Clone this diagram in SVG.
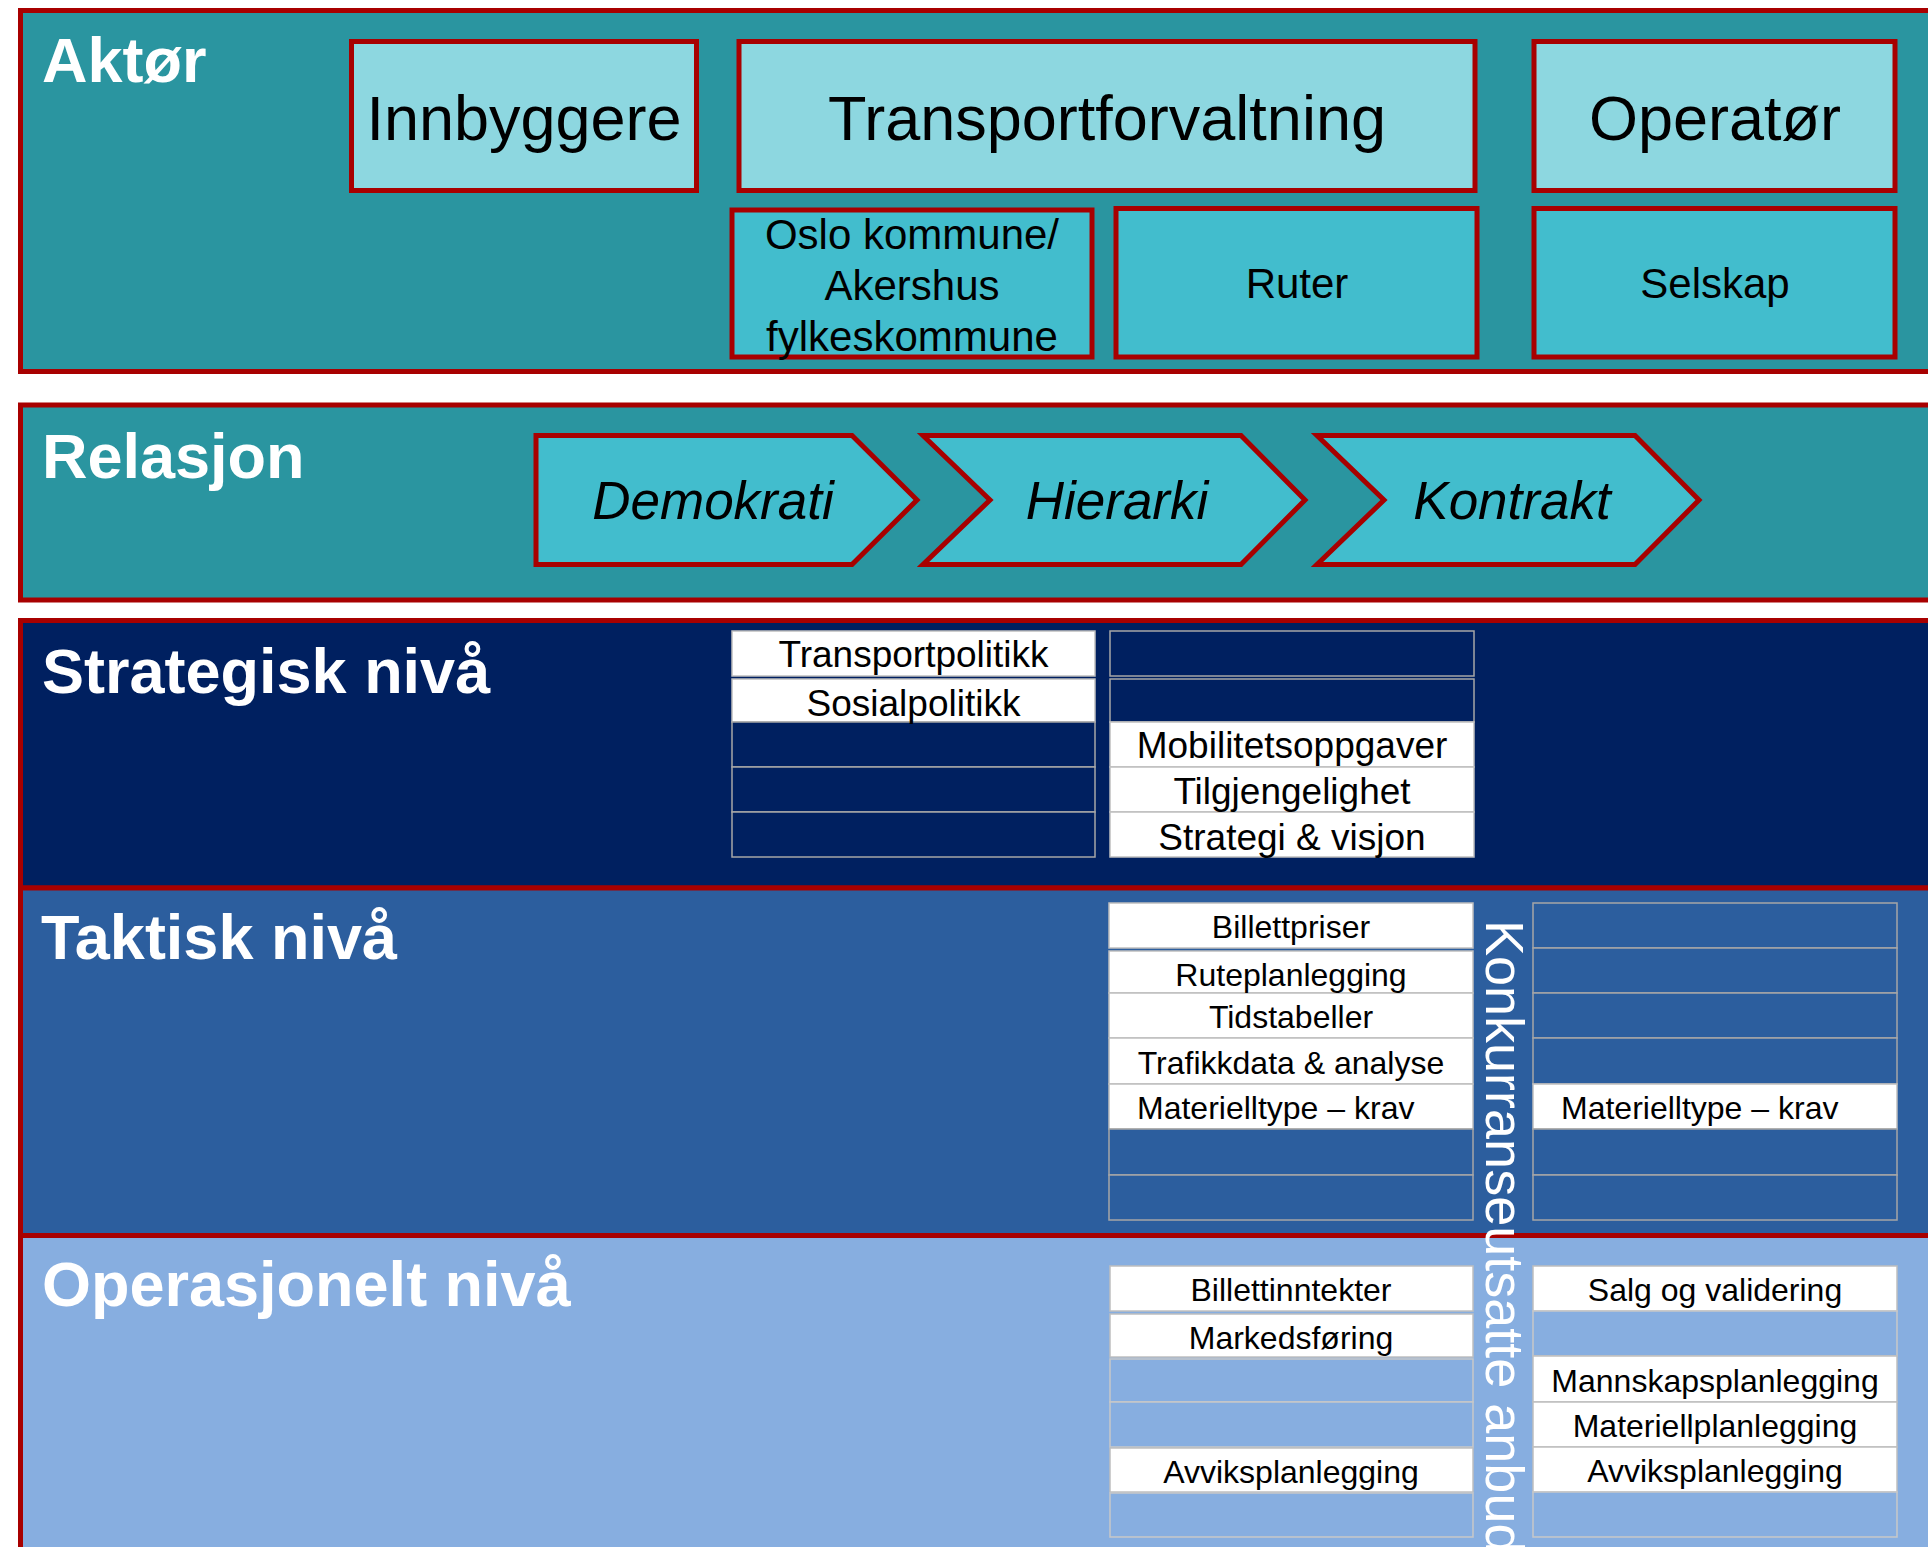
<svg xmlns="http://www.w3.org/2000/svg" width="1928" height="1547" viewBox="0 0 1928 1547">
<defs>
<style>
text{font-family:"Liberation Sans",Arial,sans-serif;}
.band{stroke:#A80000;stroke-width:5;}
.teal{fill:#2A95A0;}
.box{stroke:#A80000;stroke-width:5;}
.lt{fill:#8DD7E0;}
.md{fill:#42BDCD;}
.title{font-size:63px;font-weight:bold;fill:#FFFFFF;}
.big{font-size:63px;fill:#000;text-anchor:middle;}
.sub{font-size:42px;fill:#000;text-anchor:middle;}
.chev{fill:#42BDCD;stroke:#A80000;stroke-width:5;stroke-linejoin:miter;}
.ct{font-size:53px;font-style:italic;fill:#000;text-anchor:middle;}
.cw{fill:#FFFFFF;stroke:#BFBFBF;stroke-width:1.5;}
.cs{fill:#002060;stroke:#A6A6A6;stroke-width:1.5;}
.ck{fill:#2C5E9E;stroke:#A6A6A6;stroke-width:1.5;}
.co{fill:#87AEE0;stroke:#C8C8C8;stroke-width:1.5;}
.t37{font-size:37px;fill:#000;text-anchor:middle;}
.t32{font-size:32px;fill:#000;text-anchor:middle;}
.t32s{font-size:32px;fill:#000;}
</style>
</defs>
<rect x="0" y="0" width="1928" height="1547" fill="#FFFFFF"/>

<g id="band-aktor">
<rect class="band teal" x="20.5" y="10.5" width="2000" height="361"/>
<text class="title" x="42" y="82">Aktør</text>
</g>
<g id="node-innbyggere">
<rect class="box lt" x="351.5" y="41.5" width="345" height="149"/>
<text class="big" x="524" y="140">Innbyggere</text>
</g>
<g id="node-transportforvaltning">
<rect class="box lt" x="739" y="41.5" width="736" height="149"/>
<text class="big" x="1107" y="140">Transportforvaltning</text>
</g>
<g id="node-operator">
<rect class="box lt" x="1534" y="41.5" width="361" height="149"/>
<text class="big" x="1715" y="140">Operatør</text>
</g>
<g id="node-oslo">
<rect class="box md" x="732" y="210" width="360" height="147"/>
<text class="sub" x="912" y="248.5">Oslo kommune/</text>
<text class="sub" x="912" y="299.5">Akershus</text>
<text class="sub" x="912" y="350.5">fylkeskommune</text>
</g>
<g id="node-ruter">
<rect class="box md" x="1116" y="208.5" width="361" height="148.5"/>
<text class="sub" x="1297" y="298">Ruter</text>
</g>
<g id="node-selskap">
<rect class="box md" x="1534" y="208.5" width="361" height="148.5"/>
<text class="sub" x="1715" y="298">Selskap</text>
</g>

<g id="band-relasjon">
<rect class="band teal" x="20.5" y="405" width="2000" height="195"/>
<text class="title" x="42" y="478">Relasjon</text>
</g>
<g id="node-demokrati">
<path class="chev" d="M536,435.5 H852 L917,500 L852,564.5 H536 Z"/>
<text class="ct" x="713" y="519">Demokrati</text>
</g>
<g id="node-hierarki">
<path class="chev" d="M923,435.5 H1241 L1305,500 L1241,564.5 H923 L990,500 Z"/>
<text class="ct" x="1117" y="519">Hierarki</text>
</g>
<g id="node-kontrakt">
<path class="chev" d="M1317,435.5 H1635 L1699,500 L1635,564.5 H1317 L1384,500 Z"/>
<text class="ct" x="1512" y="519">Kontrakt</text>
</g>

<g id="band-strategisk">
<rect class="band" fill="#002060" x="20.5" y="620.5" width="2000" height="267.5"/>
<text class="title" x="42" y="693">Strategisk nivå</text>
<rect class="cw" x="732" y="631" width="363" height="45"/>
<rect class="cw" x="732" y="679" width="363" height="43"/>
<rect class="cs" x="732" y="722" width="363" height="45"/>
<rect class="cs" x="732" y="767" width="363" height="45"/>
<rect class="cs" x="732" y="812" width="363" height="45"/>
<text class="t37" x="913.5" y="667">Transportpolitikk</text>
<text class="t37" x="913.5" y="716">Sosialpolitikk</text>
<rect class="cs" x="1110" y="631" width="364" height="45"/>
<rect class="cs" x="1110" y="679" width="364" height="43"/>
<rect class="cw" x="1110" y="722" width="364" height="45"/>
<rect class="cw" x="1110" y="767" width="364" height="45"/>
<rect class="cw" x="1110" y="812" width="364" height="45"/>
<text class="t37" x="1292" y="758">Mobilitetsoppgaver</text>
<text class="t37" x="1292" y="803.5">Tilgjengelighet</text>
<text class="t37" x="1292" y="849.5">Strategi &amp; visjon</text>
</g>

<g id="band-taktisk">
<rect class="band" fill="#2C5E9E" x="20.5" y="888" width="2000" height="347.5"/>
<text class="title" x="41" y="959">Taktisk nivå</text>
<rect class="cw" x="1109" y="903" width="364" height="45"/>
<rect class="cw" x="1109" y="951" width="364" height="42"/>
<rect class="cw" x="1109" y="993" width="364" height="45"/>
<rect class="cw" x="1109" y="1038" width="364" height="46"/>
<rect class="cw" x="1109" y="1084" width="364" height="45"/>
<rect class="ck" x="1109" y="1129" width="364" height="46"/>
<rect class="ck" x="1109" y="1175" width="364" height="45"/>
<text class="t32" x="1291" y="937.5">Billettpriser</text>
<text class="t32" x="1291" y="985.5">Ruteplanlegging</text>
<text class="t32" x="1291" y="1028">Tidstabeller</text>
<text class="t32" x="1291" y="1073.5">Trafikkdata &amp; analyse</text>
<text class="t32s" x="1137" y="1119">Materielltype – krav</text>
<rect class="ck" x="1533" y="903" width="364" height="45"/>
<rect class="ck" x="1533" y="948" width="364" height="45"/>
<rect class="ck" x="1533" y="993" width="364" height="45"/>
<rect class="ck" x="1533" y="1038" width="364" height="46"/>
<rect class="cw" x="1533" y="1084" width="364" height="45"/>
<rect class="ck" x="1533" y="1129" width="364" height="46"/>
<rect class="ck" x="1533" y="1175" width="364" height="45"/>
<text class="t32s" x="1561" y="1119">Materielltype – krav</text>
</g>

<g id="band-operasjonelt">
<rect class="band" fill="#87AEE0" x="20.5" y="1235.5" width="2000" height="400"/>
<text class="title" x="42" y="1306">Operasjonelt nivå</text>
<rect class="cw" x="1110" y="1266" width="363" height="45"/>
<rect class="cw" x="1110" y="1314" width="363" height="43"/>
<rect class="co" x="1110" y="1359" width="363" height="43"/>
<rect class="co" x="1110" y="1402" width="363" height="45"/>
<rect class="cw" x="1110" y="1448" width="363" height="44"/>
<rect class="co" x="1110" y="1493" width="363" height="44"/>
<text class="t32" x="1291" y="1300.5">Billettinntekter</text>
<text class="t32" x="1291" y="1348.5">Markedsføring</text>
<text class="t32" x="1291" y="1482.5">Avviksplanlegging</text>
<rect class="cw" x="1533" y="1266" width="364" height="45"/>
<rect class="co" x="1533" y="1311" width="364" height="45"/>
<rect class="cw" x="1533" y="1356" width="364" height="46"/>
<rect class="cw" x="1533" y="1402" width="364" height="45"/>
<rect class="cw" x="1533" y="1447" width="364" height="45"/>
<rect class="co" x="1533" y="1492" width="364" height="45"/>
<text class="t32" x="1715" y="1300.5">Salg og validering</text>
<text class="t32" x="1715" y="1391.5">Mannskapsplanlegging</text>
<text class="t32" x="1715" y="1437">Materiellplanlegging</text>
<text class="t32" x="1715" y="1482">Avviksplanlegging</text>
</g>

<g id="node-konkurranseutsatte">
<text transform="translate(1486,920) rotate(90)" font-size="54" fill="#FFFFFF">Konkurranseutsatte anbud</text>
</g>

<g id="connectors"></g>
</svg>
